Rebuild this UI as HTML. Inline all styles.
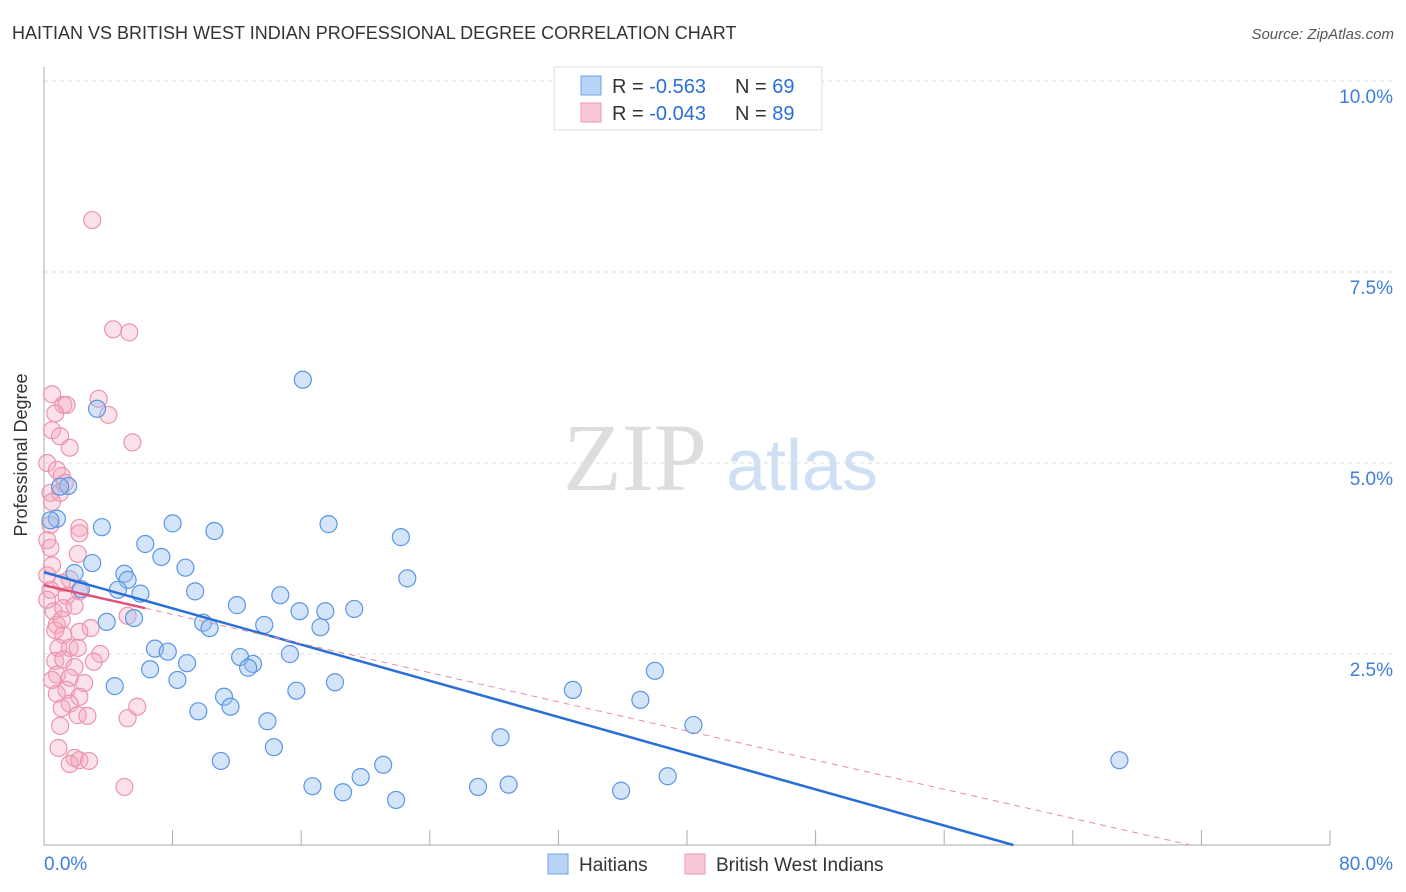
<!DOCTYPE html>
<html><head><meta charset="utf-8"><style>
body{margin:0;background:#fff;font-family:"Liberation Sans",sans-serif;}
svg{display:block}
</style></head><body>
<svg id="chart" width="1406" height="892" xmlns="http://www.w3.org/2000/svg">
<text x="12" y="39" font-size="18" fill="#333">HAITIAN VS BRITISH WEST INDIAN PROFESSIONAL DEGREE CORRELATION CHART</text>
<text x="1394" y="39" font-size="15" fill="#555" font-style="italic" text-anchor="end">Source: ZipAtlas.com</text>
<g>
<text x="635" y="490" font-size="96" fill="#ddd" font-family="Liberation Serif" text-anchor="middle">ZIP</text>
<text x="802" y="490" font-size="72" fill="#cfe0f5" text-anchor="middle">atlas</text>
</g>
<g id="grid"></g><g id="axes"></g><g id="pts"></g><g id="lines"></g>
<text x="27" y="455" font-size="18" fill="#333" transform="rotate(-90 27 455)" text-anchor="middle">Professional Degree</text>
<g>
<rect x="554" y="67" width="268" height="63" fill="#fff" stroke="#ddd"/>
<rect x="581" y="76" width="20" height="19" fill="#b8d3f5" stroke="#6fa3e6"/>
<rect x="581" y="103" width="20" height="19" fill="#f9c8d6" stroke="#ec94ae"/>
<text x="612" y="93" font-size="20" fill="#333">R = <tspan fill="#2a6fd6">-0.563</tspan><tspan x="735">N = </tspan><tspan fill="#2a6fd6">69</tspan></text>
<text x="612" y="120" font-size="20" fill="#333">R = <tspan fill="#2a6fd6">-0.043</tspan><tspan x="735">N = </tspan><tspan fill="#2a6fd6">89</tspan></text>
</g>
<g>
<rect x="548" y="854" width="20" height="20" fill="#b8d3f5" stroke="#6fa3e6"/>
<text x="579" y="871" font-size="19" fill="#333">Haitians</text>
<rect x="685" y="854" width="20" height="20" fill="#f9c8d6" stroke="#ec94ae"/>
<text x="716" y="871" font-size="19" fill="#333">British West Indians</text>
</g>
</svg>
<script>
const yTicks=[2.5,5,7.5,10];
const yTickLabels=["2.5%","5.0%","7.5%","10.0%"];
const xTickLabels=["0.0%","80.0%"];
const blueX=[16.1,3.3,1.5,0.8,1.0,0.4,3.6,8.0,10.6,17.7,22.2,6.3,7.3,3.0,1.9,5.0,5.2,8.8,22.6,2.3,4.6,6.0,9.4,12.0,14.7,15.9,17.5,19.3,3.9,5.6,9.9,10.3,13.7,17.2,6.9,7.7,15.3,12.2,13.0,12.7,8.9,6.6,8.3,4.4,15.7,18.1,11.2,11.6,9.6,38.0,32.9,37.1,40.4,13.9,28.4,14.3,11.0,21.1,19.7,38.8,16.7,18.6,21.9,27.0,28.9,35.9,66.9];
const blueY=[6.09,5.71,4.70,4.27,4.69,4.25,4.16,4.21,4.11,4.20,4.03,3.94,3.77,3.69,3.56,3.55,3.47,3.63,3.49,3.35,3.34,3.29,3.32,3.14,3.27,3.06,3.06,3.09,2.92,2.97,2.91,2.84,2.88,2.85,2.57,2.53,2.50,2.46,2.37,2.32,2.38,2.30,2.16,2.08,2.02,2.13,1.94,1.81,1.75,2.28,2.03,1.90,1.57,1.62,1.41,1.28,1.10,1.05,0.89,0.90,0.77,0.69,0.59,0.76,0.79,0.71,1.11];
const pinkX=[3.0,4.3,5.3,0.5,3.4,1.2,1.4,0.7,4.0,5.5,1.6,0.2,0.8,1.1,1.3,0.4,1.0,0.5,0.4,2.2,2.2,0.2,0.4,2.1,0.5,1.6,1.1,0.4,2.2,1.4,0.6,1.2,1.9,5.2,0.8,2.9,0.7,1.2,2.2,0.9,1.6,2.1,3.5,0.7,1.2,3.1,1.9,0.8,1.6,2.5,1.4,0.8,2.2,1.6,1.1,2.1,2.7,1.0,5.2,5.8,0.9,1.9,2.2,1.6,2.8,5.0,0.5,1.0,0.2,0.2,0.5,1.1];
const pinkY=[8.18,6.75,6.71,5.90,5.84,5.76,5.76,5.65,5.63,5.27,5.20,5.00,4.91,4.83,4.74,4.61,4.61,4.49,4.19,4.15,4.08,3.99,3.89,3.81,3.66,3.48,3.43,3.34,3.32,3.26,3.06,3.10,3.13,3.00,2.88,2.84,2.81,2.75,2.79,2.58,2.58,2.58,2.50,2.41,2.43,2.40,2.33,2.23,2.19,2.12,2.03,1.98,1.94,1.85,1.79,1.70,1.69,1.56,1.66,1.81,1.27,1.14,1.11,1.06,1.10,0.76,5.43,5.35,3.53,3.21,2.16,2.95];
const blueFit=[3.57,60.3]; // intercept, x-intercept
const pinkFit=[3.40,71.3];
const pinkSolidEnd=6.3;
const NS="http://www.w3.org/2000/svg";
const X=v=>44+v*(1286/80), Y=v=>845-v*76.4;
function mk(tag,attrs,parent){const e=document.createElementNS(NS,tag);for(const k in attrs)e.setAttribute(k,attrs[k]);parent.appendChild(e);return e;}
const grid=document.getElementById('grid'),axes=document.getElementById('axes'),pts=document.getElementById('pts'),lines=document.getElementById('lines');
yTicks.forEach((t,i)=>{
 const l=mk('line',{x1:44,x2:1393,y1:Y(t),y2:Y(t),stroke:'#ddd','stroke-dasharray':'4,4'},grid);
 
 
 const tx=mk('text',{x:1393,y:Y(t)+22,'font-size':19,fill:'#3c7de0','text-anchor':'end'},axes);
 tx.textContent=yTickLabels[i];
 
 
});
const ax=mk('line',{x1:44,x2:1330,y1:845,y2:845,stroke:'#aaa'},axes);


const ay=mk('line',{x1:44,x2:44,y1:67,y2:845,stroke:'#aaa'},axes);


for(let i=0;i<=10;i++){
 const t=mk('line',{x1:X(i*8),x2:X(i*8),y1:830,y2:845,stroke:'#aaa'},axes);
 
 
}
[[0,44,'start'],[80,1393,'end']].forEach((d,i)=>{
 const t=mk('text',{x:d[1],y:870,'font-size':19,fill:'#3c7de0','text-anchor':d[2]},axes);
 t.textContent=xTickLabels[i];
 
 
});
pinkX.forEach((v,i)=>{
 const c=mk('circle',{cx:X(v),cy:Y(pinkY[i]),r:8.5,fill:'rgba(244,170,192,0.35)',stroke:'#ec94ae','stroke-width':1.2},pts);
 
 
});
blueX.forEach((v,i)=>{
 const c=mk('circle',{cx:X(v),cy:Y(blueY[i]),r:8.5,fill:'rgba(150,190,240,0.4)',stroke:'#5a96e3','stroke-width':1.2},pts);
 
 
});
const bl=mk('line',{x1:X(0),y1:Y(blueFit[0]),x2:X(blueFit[1]),y2:Y(0),stroke:'#2a6fd6','stroke-width':2.5},lines);


const py=x=>pinkFit[0]*(1-x/pinkFit[1]);
const pd=mk('line',{x1:X(pinkSolidEnd),y1:Y(py(pinkSolidEnd)),x2:X(pinkFit[1]),y2:Y(0),stroke:'#e88aa6','stroke-width':1,'stroke-dasharray':'6,5'},lines);


const ps=mk('line',{x1:X(0),y1:Y(pinkFit[0]),x2:X(pinkSolidEnd),y2:Y(py(pinkSolidEnd)),stroke:'#e0517a','stroke-width':2.5},lines);


</script>
</body></html>
